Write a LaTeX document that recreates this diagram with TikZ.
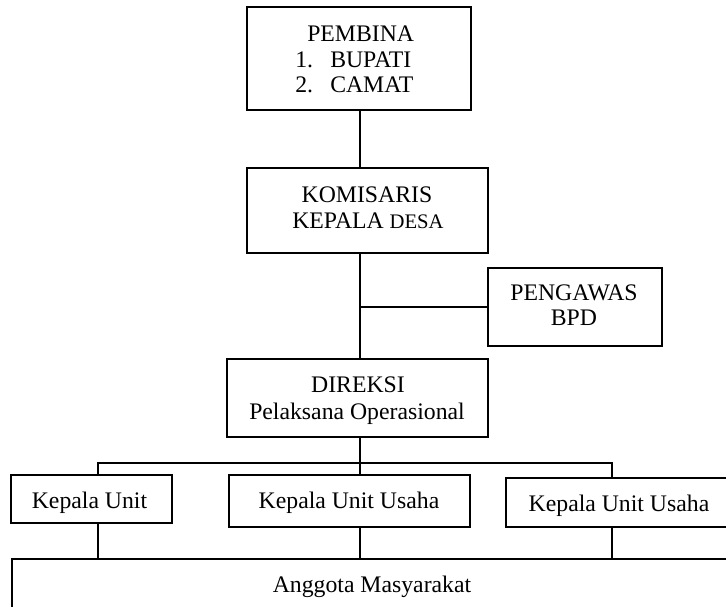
\documentclass[tikz,border=0pt]{standalone}
\usepackage{fontspec}
\setmainfont{Liberation Serif}
\begin{document}
\begin{tikzpicture}[x=0.75pt,y=-0.75pt,
  box/.style={draw=black,line width=1.3pt,rectangle,inner sep=0pt},
  txt/.style={inner sep=0pt,anchor=base,font=\fontsize{17.8pt}{19.5pt}\selectfont},
  txtl/.style={txt,anchor=base west},
  conn/.style={line width=1.3pt,line cap=rect}]
\useasboundingbox (0,0) rectangle (726,607);
\clip (0,0) rectangle (726,607);
% boxes
\node[box,minimum width=168pt,minimum height=77.25pt] (pembina) at (359,58.5) {};
\node[box,minimum width=180.75pt,minimum height=63.75pt] (komisaris) at (367.5,210.5) {};
\node[box,minimum width=130.5pt,minimum height=58.5pt] (pengawas) at (575,307) {};
\node[box,minimum width=195.75pt,minimum height=58.5pt] (direksi) at (357.5,398) {};
\node[box,minimum width=120.75pt,minimum height=36pt] (unit1) at (91.5,499) {};
\node[box,minimum width=180.75pt,minimum height=39pt] (unit2) at (349.5,501) {};
\node[box,minimum width=169.5pt,minimum height=36.75pt] (unit3) at (619,502.5) {};
\node[box,minimum width=540pt,minimum height=42pt] (anggota) at (372,587) {};
% texts
\node[txtl] (pembina1) at (307,41) {PEMBINA};
\node[txtl] (pembina2) at (295,67) {1.\hspace{12.9pt}BUPATI};
\node[txtl] (pembina3) at (295,92) {2.\hspace{12.9pt}CAMAT};
\node[txt] (komisaris1) at (367,202) {KOMISARIS};
\node[txt] (komisaris2) at (368,228) {KEPALA {\fontsize{15.5pt}{19.5pt}\selectfont DESA}};
\node[txt] (pengawas1) at (574,300) {PENGAWAS};
\node[txt] (pengawas2) at (574,325) {BPD};
\node[txt] (direksi1) at (358,392) {DIREKSI};
\node[txt] (direksi2) at (357,419) {Pelaksana Operasional};
\node[txt] (unit1t) at (89.5,508) {Kepala Unit};
\node[txt] (unit2t) at (349,508) {Kepala Unit Usaha};
\node[txt] (unit3t) at (619,511) {Kepala Unit Usaha};
\node[txt] (anggotat) at (372,592) {Anggota Masyarakat};
% connector coordinates
\coordinate (tx) at (360,0);
\coordinate (bar) at (360,463);
\coordinate (barL) at (98,463);
\coordinate (barR) at (612,463);
% connectors
\draw[conn] (pembina.south -| tx) -- (komisaris.north -| tx);
\draw[conn] (komisaris.south -| tx) -- (direksi.north -| tx);
\draw[conn] (pengawas.west -| tx) -- (pengawas.west);
\draw[conn] (direksi.south -| tx) -- (bar);
\draw[conn] (barL) -- (barR);
\draw[conn] (barL) -- (barL |- unit1.north);
\draw[conn] (bar) -- (bar |- unit2.north);
\draw[conn] (barR) -- (barR |- unit3.north);
\draw[conn] (unit1.south -| barL) -- (anggota.north -| barL);
\draw[conn] (unit2.south -| bar) -- (anggota.north -| bar);
\draw[conn] (unit3.south -| barR) -- (anggota.north -| barR);
\end{tikzpicture}
\end{document}
